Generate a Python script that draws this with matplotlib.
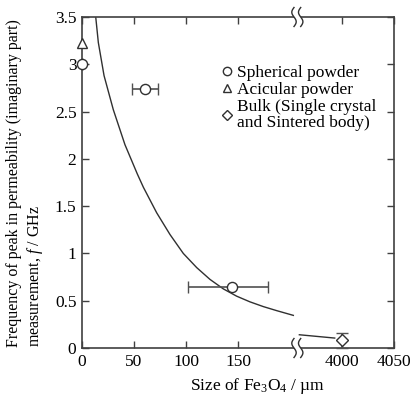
import numpy as np
import matplotlib
matplotlib.use("Agg")
import matplotlib.pyplot as plt
from matplotlib.lines import Line2D

plt.rcParams['font.family'] = ['Liberation Serif', 'DejaVu Serif']
plt.rcParams['mathtext.fontset'] = 'custom'
plt.rcParams['mathtext.rm'] = 'Liberation Serif'
plt.rcParams['mathtext.it'] = 'Liberation Serif:italic'

# ---- data ----
sph_x = [0, 61, 144.5]
sph_y = [3.00, 2.74, 0.64]
sph_xerr_lo = [0, 12.5, 42.5]
sph_xerr_hi = [0, 12, 34]

aci_x = [0]
aci_y = [3.22]

bulk_x = [4000]
bulk_y = [0.085]
bulk_yerr_lo = [0.085]
bulk_yerr_hi = [0.07]

curve_x = [13.2, 15.7, 21.2, 30.1, 41.3, 53.2, 59.0, 71.8, 84.6, 97.4,
           110.3, 123.1, 135.9, 148.7, 161.5, 174.3, 187.2, 203.2]
curve_y = [3.50, 3.23, 2.88, 2.52, 2.15, 1.84, 1.70, 1.43, 1.20, 1.00,
           0.85, 0.725, 0.625, 0.548, 0.488, 0.438, 0.395, 0.345]

bulk_line_x = [3959, 3993]
bulk_line_y = [0.14, 0.105]

xticks = [0, 50, 100, 150, 4000, 4050]
xticklabels = ['0', '50', '100', '150', '4000', '4050']
yticks = [0, 0.5, 1, 1.5, 2, 2.5, 3, 3.5]
yticklabels = ['0', '0.5', '1', '1.5', '2', '2.5', '3', '3.5']

SHIFT = 3750  # broken axis: values above 1000 are shifted left


def tx(v):
    v = np.asarray(v, dtype=float)
    return np.where(v > 1000, v - SHIFT, v)


W, H = 413, 396
fig = plt.figure(figsize=(W / 100, H / 100), dpi=100)
ax = fig.add_axes([82 / W, 1 - 348 / H, 312 / W, 331 / H])

lc = '#303030'
ax.plot(tx(curve_x), curve_y, color=lc, lw=1.0, zorder=2)
ax.plot(tx(bulk_line_x), bulk_line_y, color=lc, lw=1.0, zorder=2)

ms = 7.3
ax.errorbar(tx(sph_x), sph_y, xerr=[sph_xerr_lo, sph_xerr_hi], fmt='o', ms=ms,
            mfc='white', mec=lc, mew=1.0, ecolor='#505050', elinewidth=1.2,
            capsize=4.3, capthick=1.2, clip_on=False, zorder=4)
ax.plot(tx(aci_x), aci_y, '^', ms=ms + 0.5, mfc='white', mec=lc, mew=1.0,
        clip_on=False, zorder=4)
ax.errorbar(tx(bulk_x), bulk_y, yerr=[bulk_yerr_lo, bulk_yerr_hi], fmt='D', ms=ms - 0.7,
            mfc='white', mec=lc, mew=1.0, ecolor='#505050', elinewidth=1.2,
            capsize=4.3, capthick=1.2, clip_on=False, zorder=4)

ax.set_xlim(0, 300)
ax.set_ylim(0, 3.5)
ax.set_xticks(tx(xticks))
ax.set_xticklabels(xticklabels)
ax.set_yticks(yticks)
ax.set_yticklabels(yticklabels)
ax.tick_params(direction='in', length=5, width=1, color='#404040',
               top=True, right=True, labelsize=12.5, pad=4)
for s in ax.spines.values():
    s.set_color('#404040')
    s.set_linewidth(1.2)

ax.set_xlabel('Size of Fe$_{3}$O$_{4}$ / µm', fontsize=12.5)
ax.xaxis.set_label_coords((258 - 82) / 312, -0.085)

fig.text(25.5 / W, 1 - 347 / H,
         'Frequency of peak in permeability (imaginary part)\nmeasurement, $f$ / GHz',
         rotation=90, ha='center', va='bottom', multialignment='left',
         fontsize=11.5, linespacing=1.25)

# break marks
tr = ax.transAxes
xc1 = (294 - 82) / 312
xc2 = (300.7 - 82) / 312
hh = 9.5 / 331
aa = 2.2 / 312
t = np.linspace(0, 1, 60)
for yb in (0.0, 1.0):
    ys = yb - hh + 2 * hh * t
    x1 = xc1 + aa * np.sin(2 * np.pi * t)
    x2 = xc2 + aa * np.sin(2 * np.pi * t)
    ax.fill(np.concatenate([x1, x2[::-1]]), np.concatenate([ys, ys[::-1]]),
            color='white', transform=tr, clip_on=False, zorder=5, lw=0)
    ax.plot(x1, ys, color=lc, lw=1.0, transform=tr, clip_on=False, zorder=6)
    ax.plot(x2, ys, color=lc, lw=1.0, transform=tr, clip_on=False, zorder=6)

handles = [Line2D([], [], ls='none', marker='o', ms=6, mfc='white', mec=lc),
           Line2D([], [], ls='none', marker='^', ms=6, mfc='white', mec=lc),
           Line2D([], [], ls='none', marker='D', ms=5, mfc='white', mec=lc)]
labels = ['Spherical powder', 'Acicular powder', 'Bulk (Single crystal\nand Sintered body)']
leg = ax.legend(handles, labels, loc='upper left',
                bbox_to_anchor=((220 - 82) / 312, 1 - (65 - 17) / 331),
                frameon=False, fontsize=12.5, handlelength=0.8, handletextpad=0.2,
                labelspacing=0.05, borderpad=0, borderaxespad=0)
for txt in leg.get_texts():
    txt.set_linespacing(1.0)

fig.savefig('out.png', dpi=100)
